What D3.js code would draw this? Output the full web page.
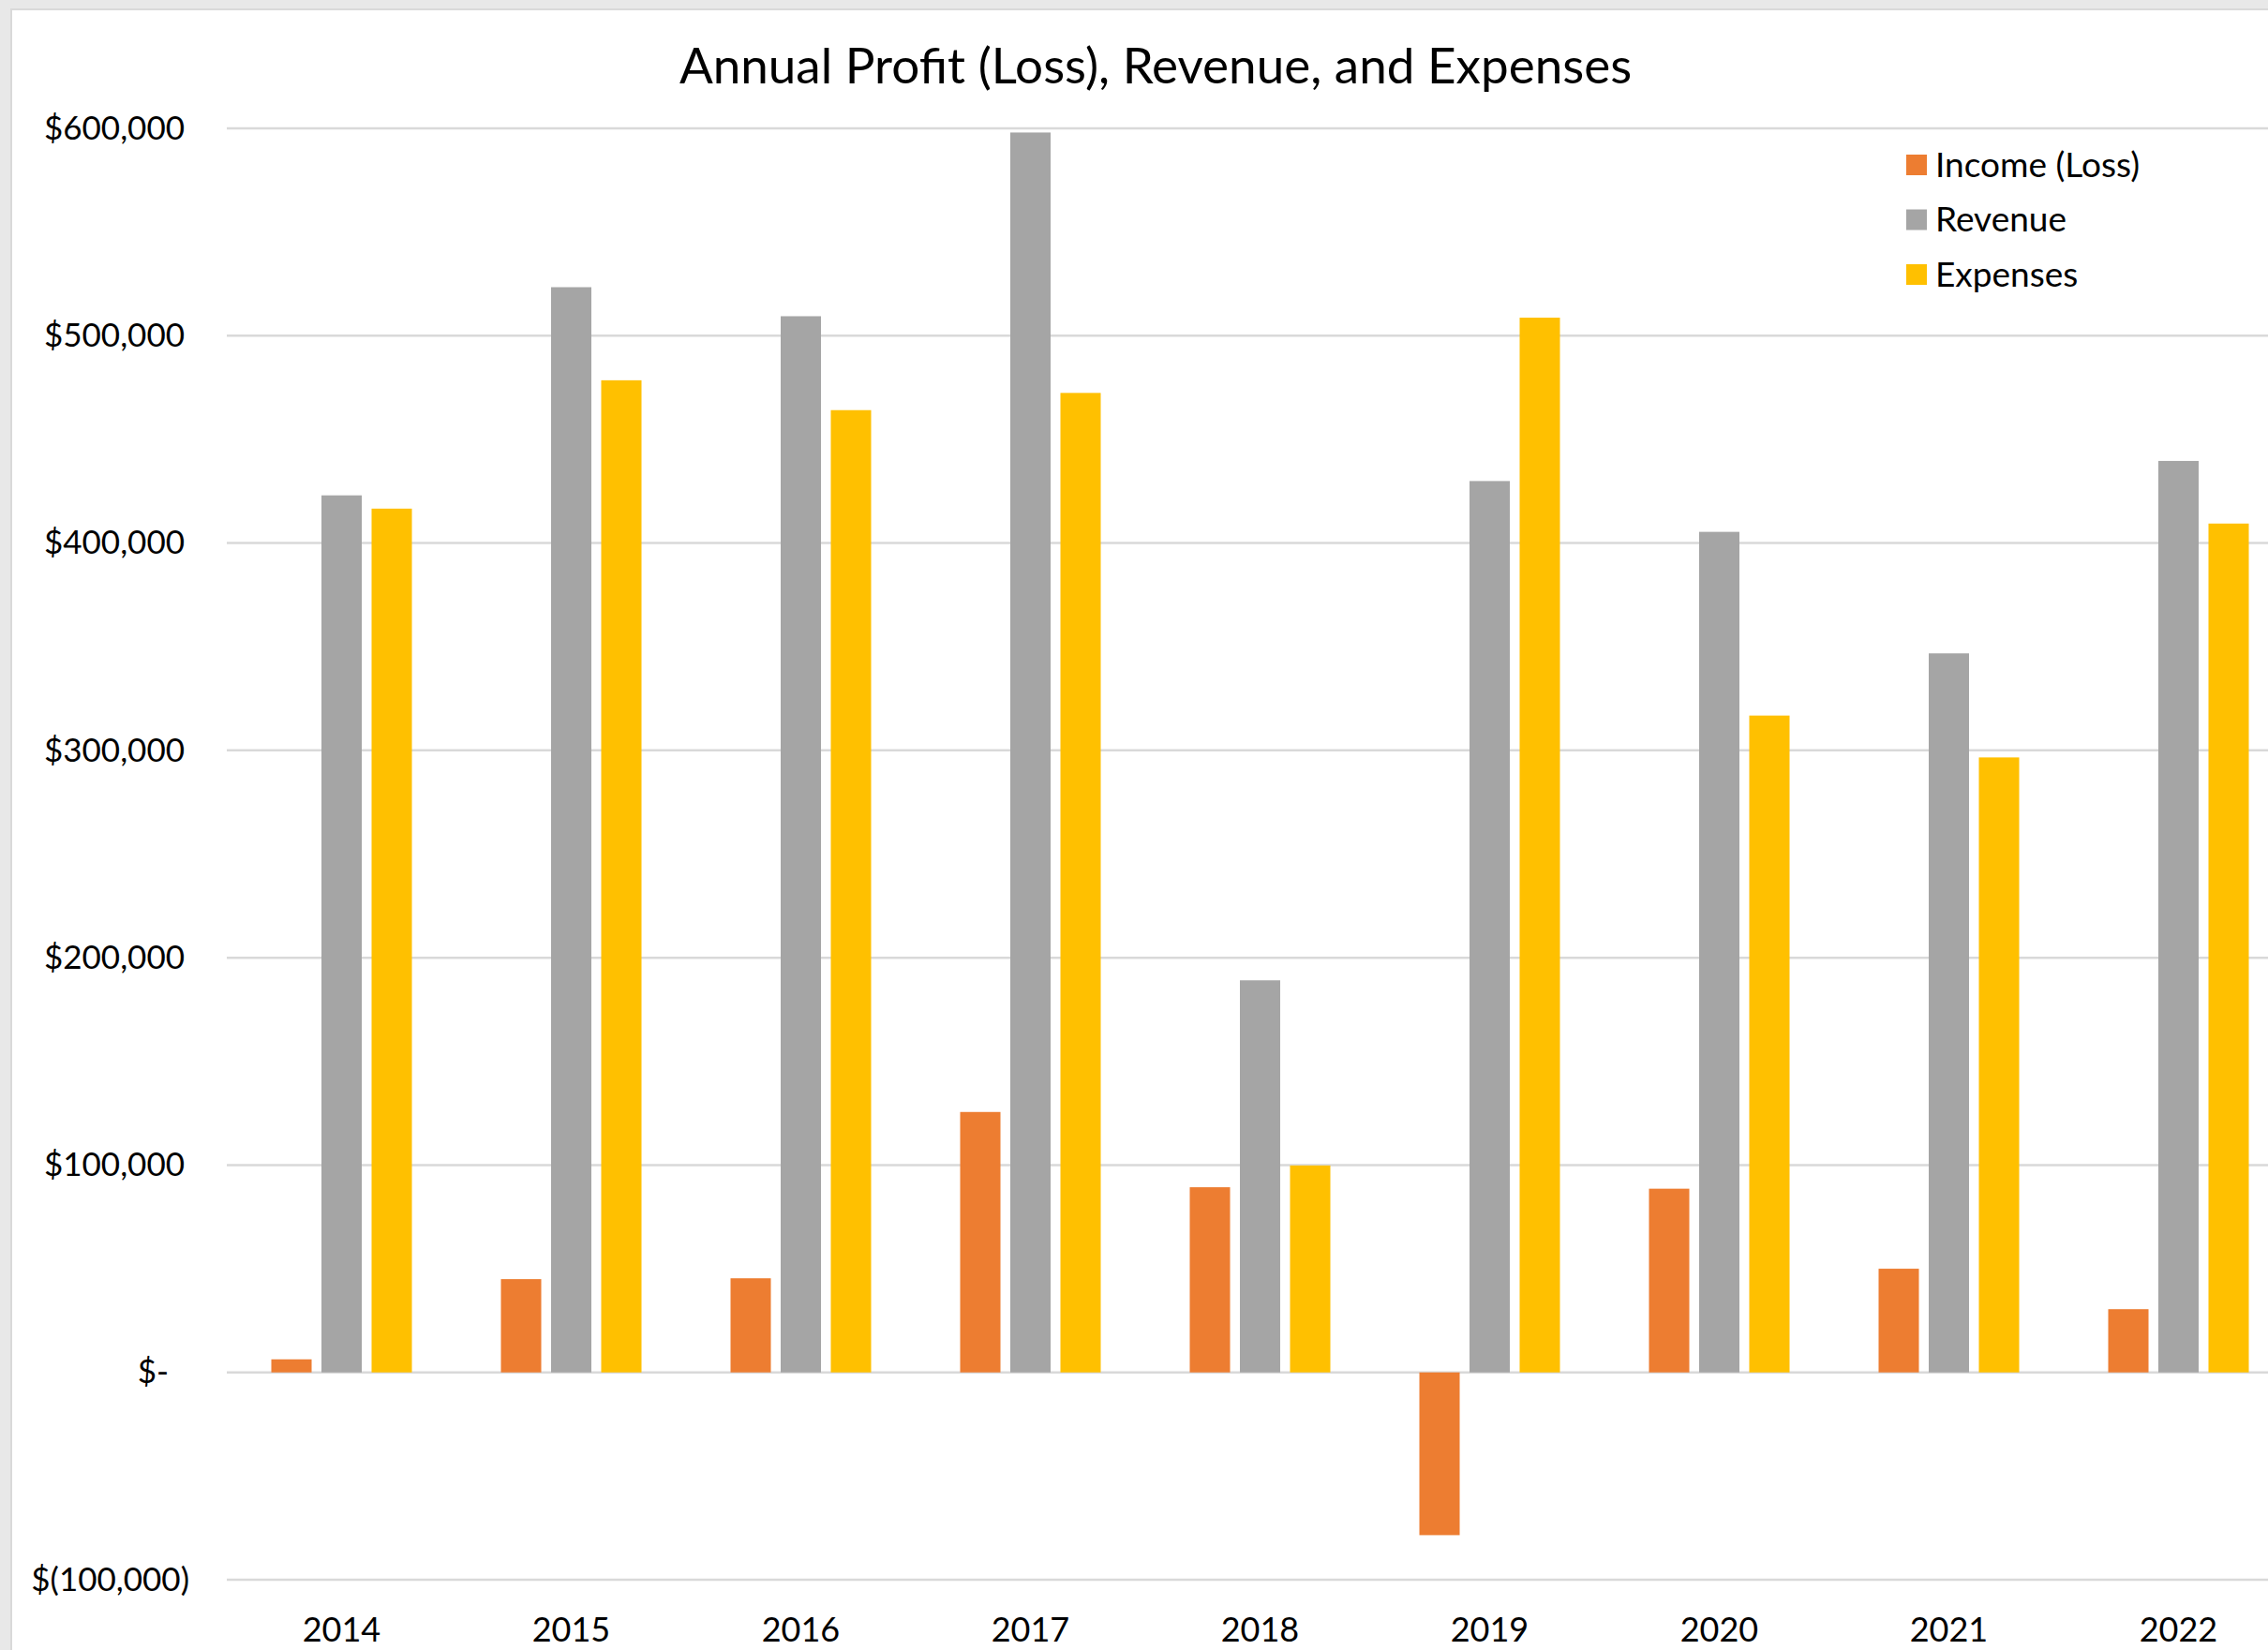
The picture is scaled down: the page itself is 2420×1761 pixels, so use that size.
<!DOCTYPE html>
<html>
<head>
<meta charset="utf-8">
<script src="https://cdn.jsdelivr.net/npm/d3@7"></script>
<style>
  html, body { margin: 0; padding: 0; background: #e8e8e8; overflow: hidden; }
  svg { display: block; font-family: Lato, "Noto Sans", sans-serif; }
</style>
</head>
<body>
<div id="chart"></div>
<script>
// data
const years = ["2014", "2015", "2016", "2017", "2018", "2019", "2020", "2021", "2022"];
const seriesNames = ["Income (Loss)", "Revenue", "Expenses"];
const income   = [6300, 45000, 45400, 125600, 89300, -78500, 88600, 50000, 30500];
const revenue  = [423000, 523400, 509400, 598000, 189100, 429900, 405400, 346800, 439600];
const expenses = [416600, 478500, 464100, 472400, 99800, 508700, 316800, 296600, 409400];
const yTicks = [-100000, 0, 100000, 200000, 300000, 400000, 500000, 600000];
const colours = ["#ed7d31", "#a5a5a5", "#ffc000"];

const svgWidth = 2420, svgHeight = 1761;
const margin = {top: 137, left: 242, bottom: 75};

const rows = years.map((y, i) => ({ year: y, values: [income[i], revenue[i], expenses[i]] }));

const svg = d3.select("#chart").append("svg")
    .attr("width", svgWidth)
    .attr("height", svgHeight);

// outer frame
svg.append("rect")
    .attr("x", 12).attr("y", 10)
    .attr("width", svgWidth).attr("height", svgHeight)
    .attr("fill", "#fff")
    .attr("stroke", "#d9d9d9")
    .attr("stroke-width", 2);

const x = d3.scaleBand()
    .domain(years)
    .range([margin.left, margin.left + 245 * years.length])
    .padding(0);

const xInner = d3.scaleBand()
    .domain(seriesNames)
    .range([0, 150])
    .paddingInner(0.196)
    .paddingOuter(0);

const y = d3.scaleLinear()
    .domain([-100000, 600000])
    .range([svgHeight - margin.bottom, margin.top]);

const colour = d3.scaleOrdinal().domain(seriesNames).range(colours);

// gridlines
svg.append("g")
    .attr("class", "grid")
    .selectAll("line")
    .data(yTicks)
    .join("line")
        .attr("x1", margin.left)
        .attr("x2", svgWidth)
        .attr("y1", d => y(d))
        .attr("y2", d => y(d))
        .attr("stroke", "#d9d9d9")
        .attr("stroke-width", 2.5);

// accounting style labels
const fmt = d3.format(",.0f");
const money = d => d === 0 ? "$-" : (d < 0 ? `$(${fmt(-d)})` : `$${fmt(d)}`);

const yAxis = svg.append("g")
    .attr("class", "y-axis")
    .attr("transform", `translate(${margin.left},0)`)
    .call(d3.axisLeft(y).tickValues(yTicks).tickFormat(money).tickSize(0).tickPadding(45))
    .attr("font-family", null)
    .attr("font-size", 35);
yAxis.select(".domain").remove();
yAxis.selectAll("text")
    .attr("fill", "#000")
    .attr("dx", d => d < 0 ? 5 : (d === 0 ? -17 : 0));

const xAxis = svg.append("g")
    .attr("class", "x-axis")
    .attr("transform", `translate(0,${svgHeight - 9})`)
    .call(d3.axisBottom(x).tickSize(0).tickPadding(0))
    .attr("font-family", null)
    .attr("font-size", 36);
xAxis.select(".domain").remove();
xAxis.selectAll("text")
    .attr("fill", "#000")
    .attr("dy", 0);

// bars
const groups = svg.append("g")
    .attr("class", "bars")
    .selectAll("g")
    .data(rows)
    .join("g")
        .attr("transform", d => `translate(${x(d.year) + (x.bandwidth() - 150) / 2},0)`);

groups.selectAll("rect")
    .data(d => d.values.map((v, i) => ({ name: seriesNames[i], value: v })))
    .join("rect")
        .attr("x", d => xInner(d.name))
        .attr("width", xInner.bandwidth())
        .attr("y", d => y(Math.max(0, d.value)))
        .attr("height", d => Math.abs(y(d.value) - y(0)))
        .attr("fill", d => colour(d.name));

// title
svg.append("text")
    .attr("x", 1233)
    .attr("y", 89)
    .attr("text-anchor", "middle")
    .attr("font-size", 53)
    .attr("fill", "#000")
    .text("Annual Profit (Loss), Revenue, and Expenses");

// legend
const legend = svg.append("g")
    .attr("class", "legend")
    .attr("transform", "translate(2034,176)")
    .selectAll("g")
    .data(seriesNames)
    .join("g")
        .attr("transform", (d, i) => `translate(0,${i * 58.5})`);

legend.append("rect")
    .attr("x", 0).attr("y", -11)
    .attr("width", 22).attr("height", 22)
    .attr("fill", d => colour(d));

legend.append("text")
    .attr("x", 31)
    .attr("dy", "0.35em")
    .attr("font-size", 37)
    .attr("fill", "#000")
    .text(d => d);
</script>
</body>
</html>
